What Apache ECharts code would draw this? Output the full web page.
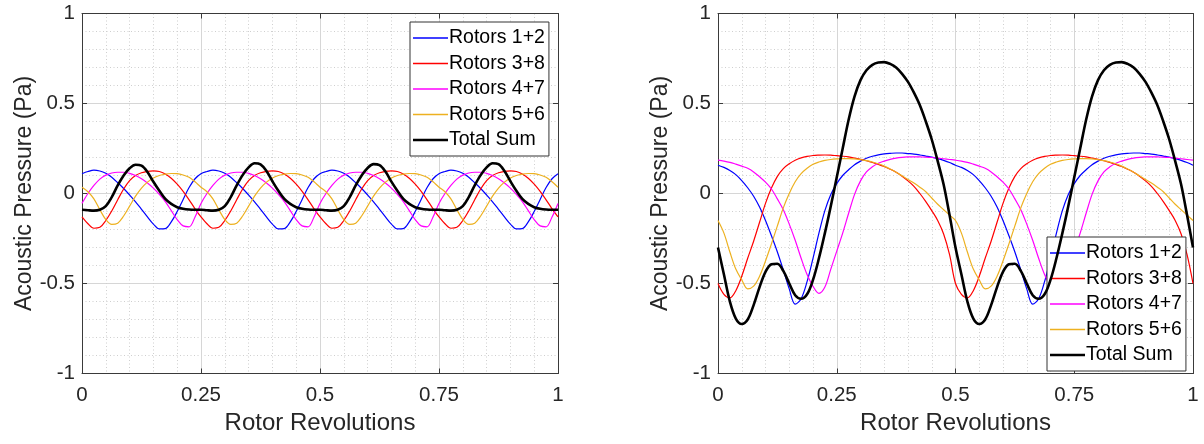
<!DOCTYPE html>
<html>
<head>
<meta charset="utf-8">
<script src="https://cdn.jsdelivr.net/npm/echarts@6/dist/echarts.min.js"></script>
<style>
  html, body { margin: 0; padding: 0; background: #fff; }
  #chart { width: 1204px; height: 444px; }
</style>
</head>
<body>
<div id="chart"></div>
<script>
// rotor revolutions (x positions of the read samples)
var revs = [0,0.0125,0.025,0.0375,0.05,0.0625,0.075,0.0875,0.1,0.1125,0.125,0.1375,0.15,0.1625,0.175,0.1875,0.2,0.2125,0.225,0.2375,
  0.25,0.2625,0.275,0.2875,0.3,0.3125,0.325,0.3375,0.35,0.3625,0.375,0.3875,0.4,0.4125,0.425,0.4375,0.45,0.4625,0.475,0.4875,
  0.5,0.5125,0.525,0.5375,0.55,0.5625,0.575,0.5875,0.6,0.6125,0.625,0.6375,0.65,0.6625,0.675,0.6875,0.7,0.7125,0.725,0.7375,
  0.75,0.7625,0.775,0.7875,0.8,0.8125,0.825,0.8375,0.85,0.8625,0.875,0.8875,0.9,0.9125,0.925,0.9375,0.95,0.9625,0.975,0.9875,1];

var seriesNames = ['Rotors 1+2', 'Rotors 3+8', 'Rotors 4+7', 'Rotors 5+6', 'Total Sum'];

// left panel (Pa)
var leftRotors12 = [
  0.11,0.122,0.13,0.125,0.112,0.09,0.06,0.028,-0.008,-0.046,-0.088,-0.13,-0.17,-0.197,-0.195,-0.158,-0.1,-0.033,0.033,0.082,
  0.11,0.122,0.13,0.125,0.112,0.09,0.06,0.028,-0.008,-0.046,-0.088,-0.13,-0.17,-0.197,-0.195,-0.158,-0.1,-0.033,0.033,0.082,
  0.11,0.122,0.13,0.125,0.112,0.09,0.06,0.028,-0.008,-0.046,-0.088,-0.13,-0.17,-0.197,-0.195,-0.158,-0.1,-0.033,0.033,0.082,
  0.11,0.122,0.13,0.125,0.112,0.09,0.06,0.028,-0.008,-0.046,-0.088,-0.13,-0.17,-0.197,-0.195,-0.158,-0.1,-0.033,0.033,0.082,
  0.11];
var leftRotors38 = [
  -0.13,-0.168,-0.193,-0.188,-0.15,-0.097,-0.035,0.025,0.072,0.1,0.115,0.123,0.126,0.122,0.108,0.085,0.052,0.012,-0.035,-0.085,
  -0.13,-0.168,-0.193,-0.188,-0.15,-0.097,-0.035,0.025,0.072,0.1,0.115,0.123,0.126,0.122,0.108,0.085,0.052,0.012,-0.035,-0.085,
  -0.13,-0.168,-0.193,-0.188,-0.15,-0.097,-0.035,0.025,0.072,0.1,0.115,0.123,0.126,0.122,0.108,0.085,0.052,0.012,-0.035,-0.085,
  -0.13,-0.168,-0.193,-0.188,-0.15,-0.097,-0.035,0.025,0.072,0.1,0.115,0.123,0.126,0.122,0.108,0.085,0.052,0.012,-0.035,-0.085,
  -0.13];
var leftRotors47 = [
  -0.055,0.0,0.045,0.08,0.102,0.114,0.118,0.118,0.112,0.1,0.082,0.058,0.03,-0.005,-0.045,-0.095,-0.145,-0.18,-0.185,-0.13,
  -0.055,0.0,0.045,0.08,0.102,0.114,0.118,0.118,0.112,0.1,0.082,0.058,0.03,-0.005,-0.045,-0.095,-0.145,-0.18,-0.185,-0.13,
  -0.055,0.0,0.045,0.08,0.102,0.114,0.118,0.118,0.112,0.1,0.082,0.058,0.03,-0.005,-0.045,-0.095,-0.145,-0.18,-0.185,-0.13,
  -0.055,0.0,0.045,0.08,0.102,0.114,0.118,0.118,0.112,0.1,0.082,0.058,0.03,-0.005,-0.045,-0.095,-0.145,-0.18,-0.185,-0.13,
  -0.055];
var leftRotors56 = [
  0.035,0.01,-0.03,-0.09,-0.145,-0.172,-0.165,-0.125,-0.07,-0.015,0.03,0.063,0.086,0.1,0.108,0.111,0.11,0.103,0.09,0.065,
  0.035,0.01,-0.03,-0.09,-0.145,-0.172,-0.165,-0.125,-0.07,-0.015,0.03,0.063,0.086,0.1,0.108,0.111,0.11,0.103,0.09,0.065,
  0.035,0.01,-0.03,-0.09,-0.145,-0.172,-0.165,-0.125,-0.07,-0.015,0.03,0.063,0.086,0.1,0.108,0.111,0.11,0.103,0.09,0.065,
  0.035,0.01,-0.03,-0.09,-0.145,-0.172,-0.165,-0.125,-0.07,-0.015,0.03,0.063,0.086,0.1,0.108,0.111,0.11,0.103,0.09,0.065,
  0.035];
var leftTotal = [
  -0.09,-0.093,-0.095,-0.09,-0.07,-0.02,0.045,0.1,0.14,0.16,0.155,0.12,0.065,0.015,-0.03,-0.058,-0.076,-0.085,-0.089,-0.09,
  -0.09,-0.093,-0.095,-0.09,-0.07,-0.02,0.045,0.102,0.145,0.168,0.162,0.125,0.068,0.015,-0.03,-0.058,-0.076,-0.085,-0.089,-0.09,
  -0.09,-0.093,-0.095,-0.09,-0.07,-0.02,0.045,0.1,0.142,0.163,0.158,0.122,0.066,0.015,-0.03,-0.058,-0.076,-0.085,-0.089,-0.09,
  -0.09,-0.093,-0.095,-0.09,-0.07,-0.02,0.045,0.102,0.145,0.168,0.163,0.125,0.068,0.015,-0.03,-0.058,-0.076,-0.085,-0.089,-0.09,
  -0.09];

// right panel (Pa)
var rightRotors12 = [
  0.157,0.145,0.128,0.105,0.072,0.032,-0.015,-0.075,-0.15,-0.235,-0.325,-0.425,-0.53,-0.615,-0.585,-0.49,-0.36,-0.22,-0.095,-0.005,
  0.055,0.1,0.132,0.16,0.18,0.196,0.207,0.215,0.22,0.223,0.225,0.225,0.222,0.219,0.214,0.208,0.202,0.194,0.184,0.172,
  0.157,0.145,0.128,0.105,0.072,0.032,-0.015,-0.075,-0.15,-0.235,-0.325,-0.425,-0.53,-0.615,-0.585,-0.49,-0.36,-0.22,-0.095,-0.005,
  0.055,0.1,0.132,0.16,0.18,0.196,0.207,0.215,0.22,0.223,0.225,0.225,0.222,0.219,0.214,0.208,0.202,0.194,0.184,0.172,
  0.157];
var rightRotors38 = [
  -0.5,-0.56,-0.58,-0.54,-0.46,-0.36,-0.265,-0.16,-0.055,0.03,0.095,0.138,0.165,0.185,0.198,0.206,0.211,0.213,0.214,0.213,
  0.21,0.207,0.203,0.197,0.19,0.182,0.172,0.162,0.15,0.135,0.118,0.096,0.07,0.04,0.0,-0.045,-0.095,-0.15,-0.225,-0.34,
  -0.5,-0.56,-0.58,-0.54,-0.46,-0.36,-0.265,-0.16,-0.055,0.03,0.095,0.138,0.165,0.185,0.198,0.206,0.211,0.213,0.214,0.213,
  0.21,0.207,0.203,0.197,0.19,0.182,0.172,0.162,0.15,0.135,0.118,0.096,0.07,0.04,0.0,-0.045,-0.095,-0.15,-0.225,-0.34,
  -0.5];
var rightRotors47 = [
  0.185,0.18,0.173,0.163,0.152,0.14,0.12,0.093,0.063,0.025,-0.03,-0.09,-0.17,-0.26,-0.36,-0.45,-0.515,-0.555,-0.52,-0.42,
  -0.32,-0.22,-0.11,-0.005,0.07,0.12,0.148,0.168,0.18,0.19,0.197,0.201,0.203,0.204,0.203,0.202,0.2,0.197,0.193,0.189,
  0.185,0.18,0.173,0.163,0.152,0.14,0.12,0.093,0.063,0.025,-0.03,-0.09,-0.17,-0.26,-0.36,-0.45,-0.515,-0.555,-0.52,-0.42,
  -0.32,-0.22,-0.11,-0.005,0.07,0.12,0.148,0.168,0.18,0.19,0.197,0.201,0.203,0.204,0.203,0.202,0.2,0.197,0.193,0.189,
  0.185];
var rightRotors56 = [
  -0.15,-0.22,-0.325,-0.42,-0.48,-0.53,-0.515,-0.46,-0.375,-0.28,-0.18,-0.08,0.0,0.065,0.11,0.14,0.162,0.175,0.184,0.189,
  0.192,0.194,0.194,0.192,0.188,0.183,0.175,0.165,0.152,0.136,0.118,0.098,0.078,0.058,0.035,0.01,-0.025,-0.06,-0.09,-0.12,
  -0.15,-0.22,-0.325,-0.42,-0.48,-0.53,-0.515,-0.46,-0.375,-0.28,-0.18,-0.08,0.0,0.065,0.11,0.14,0.162,0.175,0.184,0.189,
  0.192,0.194,0.194,0.192,0.188,0.183,0.175,0.165,0.152,0.136,0.118,0.098,0.078,0.058,0.035,0.01,-0.025,-0.06,-0.09,-0.12,
  -0.15];
var rightTotal = [
  -0.3,-0.45,-0.6,-0.695,-0.725,-0.7,-0.62,-0.52,-0.435,-0.393,-0.39,-0.43,-0.5,-0.565,-0.585,-0.56,-0.48,-0.36,-0.22,-0.07,
  0.09,0.25,0.41,0.54,0.63,0.685,0.715,0.728,0.73,0.72,0.7,0.665,0.62,0.56,0.49,0.4,0.3,0.18,0.05,-0.12,
  -0.3,-0.45,-0.6,-0.695,-0.725,-0.7,-0.62,-0.52,-0.435,-0.393,-0.39,-0.43,-0.5,-0.565,-0.585,-0.56,-0.48,-0.36,-0.22,-0.07,
  0.09,0.25,0.41,0.54,0.63,0.685,0.715,0.728,0.73,0.72,0.7,0.665,0.62,0.56,0.49,0.4,0.3,0.18,0.05,-0.12,
  -0.3];

var colors = ['#0000ff', '#ff0000', '#ff00ff', '#edb120', '#000000'];
var widths = [1.2, 1.2, 1.2, 1.2, 2.6];
var font = 'Liberation Sans, Arial, Helvetica, sans-serif';
var axisColor = '#3a3a3a';

function pairs(ys) {
  return revs.map(function (x, i) { return [x, ys[i]]; });
}

function makeSeries(arrays, axisIdx) {
  return arrays.map(function (ys, i) {
    return {
      name: seriesNames[i],
      type: 'line',
      xAxisIndex: axisIdx,
      yAxisIndex: axisIdx,
      data: pairs(ys),
      symbol: 'none',
      smooth: 0.35,
      z: i == 4 ? 5 : 3,
      lineStyle: { color: colors[i], width: widths[i] },
      itemStyle: { color: colors[i] }
    };
  });
}

function mainX(grid) {
  return {
    type: 'value', gridIndex: grid, position: 'bottom',
    min: 0, max: 1, interval: 0.25,
    name: 'Rotor Revolutions', nameLocation: 'middle', nameGap: 38,
    nameTextStyle: { fontFamily: font, fontSize: 24, color: '#262626' },
    axisLine: { show: true, onZero: false, lineStyle: { color: axisColor } },
    axisTick: { show: true, inside: true, length: 5, lineStyle: { color: axisColor } },
    axisLabel: { fontFamily: font, fontSize: 20.5, color: '#262626', margin: 11 },
    minorTick: { show: false, splitNumber: 5 },
    splitLine: { show: true, lineStyle: { color: '#d6d6d6', width: 1 } },
    minorSplitLine: { show: true, lineStyle: { color: '#cfcfcf', width: 1, type: [1, 2.5] } }
  };
}
function mainY(grid) {
  return {
    type: 'value', gridIndex: grid, position: 'left',
    min: -1, max: 1, interval: 0.5,
    name: 'Acoustic Pressure (Pa)', nameLocation: 'middle', nameGap: 45,
    nameTextStyle: { fontFamily: font, fontSize: 23, color: '#262626' },
    axisLine: { show: true, onZero: false, lineStyle: { color: axisColor } },
    axisTick: { show: true, inside: true, length: 5, lineStyle: { color: axisColor } },
    axisLabel: { fontFamily: font, fontSize: 20.5, color: '#262626', margin: 7 },
    minorTick: { show: false, splitNumber: 5 },
    splitLine: { show: true, lineStyle: { color: '#d6d6d6', width: 1 } },
    minorSplitLine: { show: true, lineStyle: { color: '#cfcfcf', width: 1, type: [1, 2.5] } }
  };
}
function boxX(grid) {
  return {
    type: 'value', gridIndex: grid, position: 'top', min: 0, max: 1, interval: 0.25,
    axisLine: { show: true, onZero: false, lineStyle: { color: axisColor } },
    axisTick: { show: true, inside: true, length: 5, lineStyle: { color: axisColor } },
    axisLabel: { show: false }, splitLine: { show: false }
  };
}
function boxY(grid) {
  return {
    type: 'value', gridIndex: grid, position: 'right', min: -1, max: 1, interval: 0.5,
    axisLine: { show: true, onZero: false, lineStyle: { color: axisColor } },
    axisTick: { show: true, inside: true, length: 5, lineStyle: { color: axisColor } },
    axisLabel: { show: false }, splitLine: { show: false }
  };
}

// plain line samples in the legend, thick one for the total
var legendItems = seriesNames.map(function (n, i) {
  return { name: n, icon: i == 4 ? 'path://M0,0H35V2.6H0Z' : 'path://M0,0H35V1.3H0Z' };
});

function legendAt(left, top) {
  return {
    orient: 'vertical', left: left, top: top,
    data: legendItems,
    itemWidth: 35, itemHeight: 14, itemGap: 5.5,
    padding: [6, 4, 6, 3],
    backgroundColor: '#ffffff',
    borderColor: '#333333', borderWidth: 1, borderRadius: 0,
    selectedMode: false,
    textStyle: { fontFamily: font, fontSize: 19.5, color: '#000', lineHeight: 20, padding: [0, 0, 0, -4] }
  };
}

var chart = echarts.init(document.getElementById('chart'), null, { renderer: 'canvas' });
chart.setOption({
  backgroundColor: '#ffffff',
  animation: false,
  grid: [
    { left: 82, right: 646, top: 13.5, bottom: 70.5 },
    { left: 718, right: 11, top: 13.5, bottom: 70.5 }
  ],
  xAxis: [mainX(0), mainX(1), boxX(0), boxX(1)],
  yAxis: [mainY(0), mainY(1), boxY(0), boxY(1)],
  legend: [legendAt(410, 22), legendAt(1047, 237)],
  series: makeSeries([leftRotors12, leftRotors38, leftRotors47, leftRotors56, leftTotal], 0)
    .concat(makeSeries([rightRotors12, rightRotors38, rightRotors47, rightRotors56, rightTotal], 1))
});
</script>
</body>
</html>
